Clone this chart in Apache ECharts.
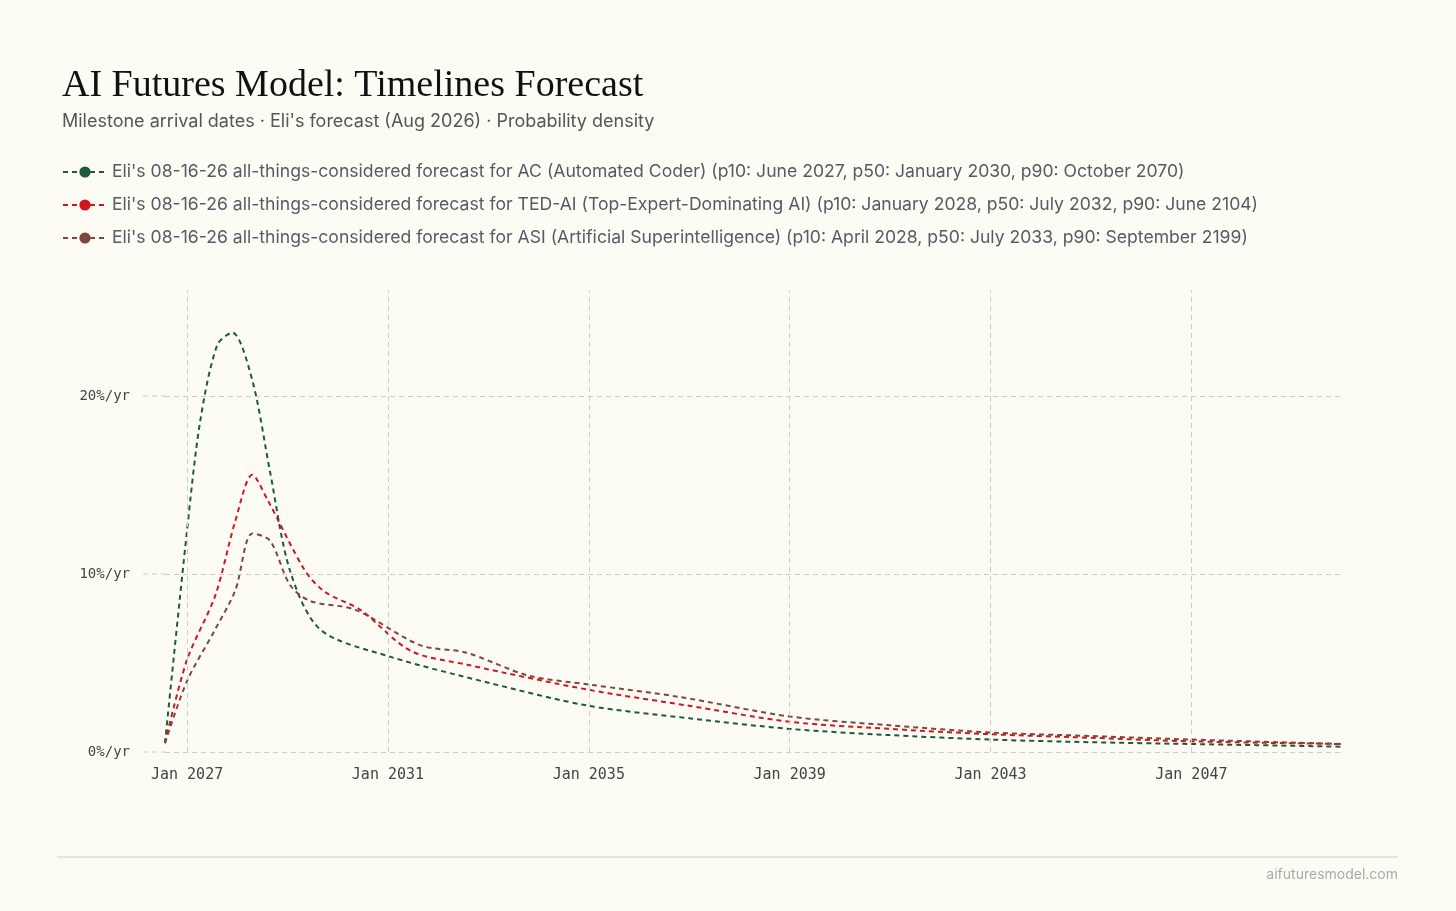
<!DOCTYPE html>
<html><head><meta charset="utf-8">
<script src="https://cdn.jsdelivr.net/npm/echarts@6/dist/echarts.min.js"></script>
<style>html,body{margin:0;padding:0;background:#fdfcf4;}#c{width:1456px;height:911px;}</style>
</head><body><div id="c"></div>
<script>
const acX=[2026.56,2027.0,2027.26,2027.6,2027.9,2028.3,2028.65,2029.05,2029.65,2031,2033,2035,2037,2039,2041,2043,2045,2047,2050];
const acY=[0.5,12.5,18.6,22.9,23.6,20.9,15.8,10.2,6.9,5.4,3.9,2.6,1.9,1.3,0.95,0.7,0.55,0.45,0.3];
const tedX=[2026.56,2027.0,2027.56,2027.96,2028.3,2028.6,2029.35,2029.75,2030.45,2031.45,2032.6,2035,2037,2039,2041,2043,2045,2047,2050];
const tedY=[0.5,5.2,8.8,13.0,15.6,14.2,10.2,9.0,8.0,5.7,4.9,3.5,2.6,1.7,1.3,1.0,0.8,0.6,0.45];
const asiX=[2026.56,2027.0,2027.56,2027.96,2028.3,2028.65,2029.05,2029.45,2030.35,2031.65,2032.55,2033.8,2035,2036.8,2039,2041,2043,2045,2047,2050];
const asiY=[0.5,4.0,6.9,9.1,12.3,11.9,9.4,8.5,8.0,6.0,5.6,4.3,3.8,3.1,2.0,1.5,1.1,0.9,0.7,0.45];
const xTicks=[2027,2031,2035,2039,2043,2047];
const yTicks=[0,10,20];
const names=["Eli's 08-16-26 all-things-considered forecast for AC (Automated Coder) (p10: June 2027, p50: January 2030, p90: October 2070)",
"Eli's 08-16-26 all-things-considered forecast for TED-AI (Top-Expert-Dominating AI) (p10: January 2028, p50: July 2032, p90: June 2104)",
"Eli's 08-16-26 all-things-considered forecast for ASI (Artificial Superintelligence) (p10: April 2028, p50: July 2033, p90: September 2199)"];
const colors=['#1e5a3a','#d0161e','#7f4640'];
const zip=(a,b)=>a.map((v,i)=>[v,b[i]]);
const mk=(i,x,y)=>({name:names[i],type:'line',data:zip(x,y),symbol:'none',smooth:0.3,lineStyle:{color:colors[i],width:2,type:[5,4]},itemStyle:{color:colors[i]}});
const chart=echarts.init(document.getElementById('c'));
const s=[mk(0,acX,acY),mk(1,tedX,tedY),mk(2,asiX,asiY)];
s.unshift({type:'line',data:[],silent:true,markLine:{symbol:'none',silent:true,label:{show:false},lineStyle:{color:'#cccccc',type:[5,4],width:1},
  data:xTicks.map(v=>({xAxis:v})).concat(yTicks.map(v=>({yAxis:v})))}});
chart.setOption({
 backgroundColor:'#fdfcf4',animation:false,
 title:[{text:'AI Futures Model: Timelines Forecast',left:57,top:62,textStyle:{fontFamily:'Liberation Serif',fontSize:38,fontWeight:'normal',color:'#111'}},
  {text:'Milestone arrival dates · Eli\'s forecast (Aug 2026) · Probability density',left:57,top:108,textStyle:{fontFamily:'Inter',fontSize:18,fontWeight:'normal',color:'#555'}}],
 legend:{orient:'vertical',left:57,top:158,itemGap:15,itemWidth:44,itemHeight:14,data:names,textStyle:{fontFamily:'Inter',fontSize:17.6,color:'#555b66'}},
 grid:{left:165,right:114,top:290,bottom:159},
 xAxis:{type:'value',min:2026.56,max:2050,axisLine:{show:false},axisTick:{show:false},splitLine:{show:false},
  axisLabel:{customValues:xTicks,formatter:v=>'Jan '+Math.round(v),fontFamily:'DejaVu Sans Mono',fontSize:15,color:'#444',margin:16}},
 yAxis:{type:'value',min:0,max:26,axisLine:{show:false},axisTick:{show:false},splitLine:{show:false},
  axisLabel:{customValues:yTicks,formatter:v=>v+'%/yr',fontFamily:'DejaVu Sans Mono',fontSize:14,color:'#444',margin:35}},
 graphic:[{type:'line',shape:{x1:57,y1:857,x2:1398,y2:857},style:{stroke:'#cccccc',lineWidth:1}},
  {type:'line',shape:{x1:143,y1:396,x2:165,y2:396},style:{stroke:'#cccccc',lineWidth:1,lineDash:[5,4]}},
  {type:'line',shape:{x1:143,y1:574,x2:165,y2:574},style:{stroke:'#cccccc',lineWidth:1,lineDash:[5,4]}},
  {type:'line',shape:{x1:143,y1:752,x2:165,y2:752},style:{stroke:'#cccccc',lineWidth:1,lineDash:[5,4]}},
  {type:'text',right:58,top:868,style:{text:'aifuturesmodel.com',font:'14px Inter',fill:'#aaa'}}],
 series:s
});
</script></body></html>
